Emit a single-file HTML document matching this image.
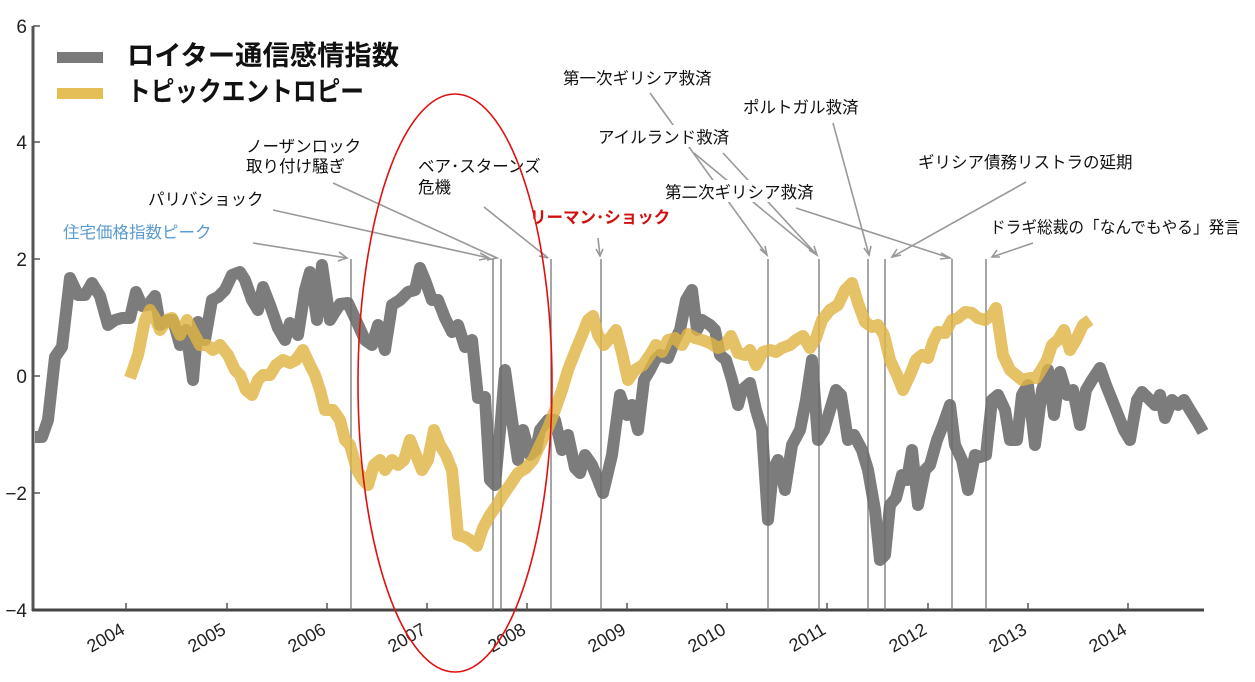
<!DOCTYPE html>
<html><head><meta charset="utf-8"><style>
html,body{margin:0;padding:0;background:#fff;}
svg{display:block;}
text{font-family:"Liberation Sans","Noto Sans CJK JP",sans-serif;}
.lab{font-size:16.5px;fill:#111;}
.tk{font-size:18px;fill:#222;}
</style></head><body>
<svg width="1255" height="682" viewBox="0 0 1255 682" xmlns="http://www.w3.org/2000/svg">
<line x1="33" y1="26" x2="33" y2="611" stroke="#555" stroke-width="3"/>
<line x1="32" y1="610" x2="1204" y2="610" stroke="#444" stroke-width="3"/>
<g stroke="#555" stroke-width="1.5">
<line x1="33" y1="26" x2="40" y2="26"/><line x1="33" y1="142" x2="40" y2="142"/><line x1="33" y1="259" x2="40" y2="259"/><line x1="33" y1="376" x2="40" y2="376"/><line x1="33" y1="493" x2="40" y2="493"/>
<line x1="126" y1="603" x2="126" y2="610"/><line x1="227" y1="603" x2="227" y2="610"/><line x1="327" y1="603" x2="327" y2="610"/><line x1="427" y1="603" x2="427" y2="610"/><line x1="527" y1="603" x2="527" y2="610"/><line x1="627" y1="603" x2="627" y2="610"/><line x1="727" y1="603" x2="727" y2="610"/><line x1="827" y1="603" x2="827" y2="610"/><line x1="928" y1="603" x2="928" y2="610"/><line x1="1028" y1="603" x2="1028" y2="610"/><line x1="1128" y1="603" x2="1128" y2="610"/>
</g>
<g class="tk" text-anchor="end">
<text x="27" y="33" font-size="19">6</text><text x="27" y="149" font-size="19">4</text><text x="27" y="266" font-size="19">2</text><text x="27" y="383" font-size="19">0</text><text x="27" y="500" font-size="19">−2</text><text x="27" y="617" font-size="19">−4</text>
</g>
<g class="tk" text-anchor="end">
<text transform="translate(126,633) rotate(-30)">2004</text>
<text transform="translate(227,633) rotate(-30)">2005</text>
<text transform="translate(327,633) rotate(-30)">2006</text>
<text transform="translate(427,633) rotate(-30)">2007</text>
<text transform="translate(527,633) rotate(-30)">2008</text>
<text transform="translate(627,633) rotate(-30)">2009</text>
<text transform="translate(727,633) rotate(-30)">2010</text>
<text transform="translate(827,633) rotate(-30)">2011</text>
<text transform="translate(928,633) rotate(-30)">2012</text>
<text transform="translate(1028,633) rotate(-30)">2013</text>
<text transform="translate(1128,633) rotate(-30)">2014</text>
</g>
<g stroke="#777" stroke-width="1.3">
<line x1="351" y1="259" x2="351" y2="610"/><line x1="493" y1="259" x2="493" y2="610"/><line x1="501" y1="259" x2="501" y2="610"/><line x1="551" y1="259" x2="551" y2="610"/><line x1="601" y1="259" x2="601" y2="610"/><line x1="768" y1="259" x2="768" y2="610"/><line x1="819" y1="259" x2="819" y2="610"/><line x1="868" y1="259" x2="868" y2="610"/><line x1="885" y1="259" x2="885" y2="610"/><line x1="952" y1="259" x2="952" y2="610"/><line x1="986" y1="259" x2="986" y2="610"/>
</g>
<polyline fill="none" stroke="#6a6a6a" stroke-opacity="0.88" stroke-width="12" stroke-linejoin="round" points="35,437 42,437 48,420 55,357 62,347 70,278 78,295 85,295 92,283 100,296 108,325 115,320 122,318 130,318 136,292 142,306 148,305 155,296 160,325 168,320 173,320 180,345 186,330 193,380 198,322 205,340 212,300 218,297 225,290 232,275 240,272 245,280 252,300 258,310 263,287 270,305 278,328 285,340 290,323 298,335 305,290 310,272 317,320 322,265 330,320 340,304 348,303 355,318 365,340 372,345 378,325 385,350 392,305 400,300 408,292 415,290 420,268 425,280 432,300 438,300 445,318 452,332 458,325 465,347 472,340 478,398 485,397 490,480 495,485 501,420 505,370 512,420 518,460 523,430 530,455 536,450 540,430 548,420 555,420 562,450 568,435 575,468 580,473 585,455 592,465 598,480 603,493 612,455 620,395 627,415 632,405 638,430 644,380 650,370 655,360 660,355 668,358 675,340 680,330 686,300 692,290 697,330 702,320 710,325 715,330 720,355 726,360 732,380 738,405 742,390 750,383 756,410 762,430 768,520 773,470 778,460 785,490 792,445 800,430 806,400 812,360 818,440 824,430 830,410 836,390 841,395 848,440 854,435 862,450 868,470 875,510 880,560 885,555 890,505 896,498 902,475 907,480 912,450 918,505 925,470 930,465 937,440 943,425 950,405 955,445 962,460 968,490 975,455 980,457 986,455 992,400 998,395 1005,410 1010,440 1017,440 1022,395 1028,385 1035,445 1042,390 1048,370 1054,415 1060,372 1067,395 1073,390 1080,425 1086,390 1092,380 1100,368 1106,385 1112,400 1118,415 1124,430 1130,440 1137,400 1142,392 1148,398 1155,405 1160,395 1165,418 1172,400 1178,405 1184,400 1190,410 1198,423 1203,432"/>
<polyline fill="none" stroke="#e0b445" stroke-opacity="0.82" stroke-width="12" stroke-linejoin="round" points="130,378 138,355 145,320 150,310 155,318 160,330 167,320 172,318 180,335 187,320 192,330 200,345 207,345 213,350 220,345 228,355 235,370 240,375 246,390 252,395 258,380 263,375 270,375 276,365 283,360 290,363 296,360 303,350 310,365 315,375 320,390 325,410 333,410 340,420 345,440 350,445 357,470 363,480 368,485 374,465 380,460 385,470 392,460 398,465 404,460 410,440 416,455 422,470 428,460 434,430 440,445 446,455 452,470 458,535 465,537 470,540 477,546 483,528 490,515 497,505 503,495 510,485 518,473 526,468 533,460 540,445 548,428 555,410 562,390 568,370 575,352 582,335 588,320 593,316 598,335 604,345 610,338 616,330 622,353 628,380 635,370 643,365 650,355 656,345 662,352 668,340 675,338 682,345 688,334 695,338 702,340 710,343 718,348 725,345 731,336 738,353 745,355 750,350 756,365 763,352 770,350 776,352 782,348 790,345 796,340 803,336 810,348 816,338 822,320 830,310 838,305 845,290 852,283 858,303 865,322 872,327 878,325 884,335 890,360 897,375 903,390 910,375 916,360 922,355 928,358 933,342 938,332 945,333 952,320 958,318 965,312 972,313 978,318 985,320 992,315 996,308 1003,355 1010,370 1016,375 1022,380 1030,378 1036,378 1040,372 1047,360 1052,345 1058,340 1064,330 1070,350 1076,340 1083,325 1090,320"/>
<g stroke="#999" stroke-width="1.6" fill="none">
<line x1="253" y1="243" x2="347" y2="258"/><path d="M339,252 L347,258 L338,261"/>
<line x1="273" y1="210" x2="489" y2="258"/><path d="M480,253 L489,258 L479,260"/>
<line x1="333" y1="183" x2="497" y2="258"/><path d="M488,254 L497,258 L487,260"/>
<line x1="484" y1="207" x2="548" y2="258"/><path d="M541,252 L548,258 L539,256"/>
<line x1="598" y1="238" x2="600" y2="256"/><path d="M596,249 L600,256 L603,249"/>
<line x1="650" y1="93" x2="767" y2="255"/><path d="M760,249 L767,255 L765,246"/>
<line x1="694" y1="153" x2="817" y2="255"/><path d="M809,250 L817,255 L814,246"/>
<line x1="723" y1="153" x2="817" y2="255"/>
<line x1="833" y1="123" x2="869" y2="255"/><path d="M864,248 L869,255 L871,246"/>
<line x1="796" y1="208" x2="950" y2="258"/><path d="M941,253 L950,258 L940,259"/>
<line x1="1026" y1="182" x2="892" y2="257"/><path d="M897,249 L892,257 L901,255"/>
<line x1="1033" y1="243" x2="992" y2="257"/><path d="M997,250 L992,257 L1000,257"/>
</g>
<g fill="#fff">
<rect x="560" y="66" width="160" height="22"/><rect x="595" y="125" width="135" height="22"/><rect x="740" y="95" width="125" height="22"/><rect x="662" y="180" width="160" height="22"/><rect x="915" y="150" width="220" height="22"/><rect x="987" y="215" width="255" height="22"/>
</g>
<text class="lab" x="563" y="84">第一次ギリシア救済</text>
<text class="lab" x="598" y="143">アイルランド救済</text>
<text class="lab" x="743" y="113">ポルトガル救済</text>
<text class="lab" x="665" y="198">第二次ギリシア救済</text>
<text class="lab" x="918" y="168">ギリシア債務リストラの延期</text>
<text class="lab" x="990" y="233" textLength="250" lengthAdjust="spacingAndGlyphs">ドラギ総裁の「なんでもやる」発言</text>
<text x="530" y="223" font-size="16.5" font-weight="bold" style="fill:#d01010">リーマン･ショック</text>
<text class="lab" x="418" y="172">ベア･スターンズ</text>
<text class="lab" x="418" y="193">危機</text>
<text class="lab" x="246" y="152">ノーザンロック</text>
<text class="lab" x="246" y="172">取り付け騒ぎ</text>
<text class="lab" x="148" y="205">パリバショック</text>
<text class="lab" x="63" y="238" style="fill:#5b9bd0">住宅価格指数ピーク</text>
<rect x="57" y="52" width="46" height="11" fill="#7a7a7a"/>
<rect x="57" y="88" width="46" height="11" fill="#e5be55"/>
<text x="127" y="65" font-size="27" font-weight="bold" fill="#111" textLength="272" lengthAdjust="spacingAndGlyphs">ロイター通信感情指数</text>
<text x="127" y="101" font-size="27" font-weight="bold" fill="#111" textLength="237" lengthAdjust="spacingAndGlyphs">トピックエントロピー</text>
<ellipse cx="455" cy="383" rx="97" ry="289" fill="none" stroke="#e01010" stroke-width="1.6"/>
</svg>
</body></html>
